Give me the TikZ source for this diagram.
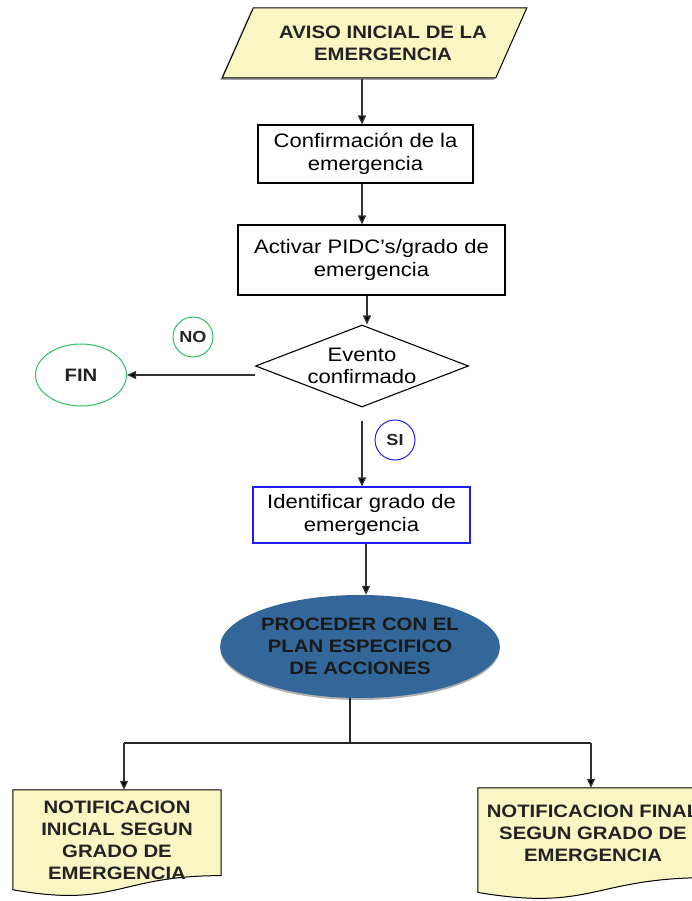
\documentclass[tikz,border=0pt]{standalone}
\usepackage{fontspec}
\setmainfont{Liberation Sans}[FakeStretch=1.13]
\usetikzlibrary{arrows.meta,shapes.geometric,calc,backgrounds,shadows}

\definecolor{paper}{RGB}{250,246,196}
\definecolor{planblue}{RGB}{51,102,153}
\definecolor{okgreen}{RGB}{45,190,95}
\definecolor{siblue}{RGB}{30,30,240}
\definecolor{inkgray}{RGB}{35,35,35}

% wavy "document" outline below a text node: #1 node, #2 full height, #3 path options
\newcommand\docoutline[3]{%
  \path[#3] (#1.north west) -- (#1.north east)
    -- ($(#1.north east)+(0,0.802*#2)$)
    .. controls ($(#1.north)+(0,0.802*#2)$) and ($(#1.north)+(0,1.107*#2)$)
    .. ($(#1.north west)+(0,0.934*#2)$) -- cycle;}

\begin{document}
\begin{tikzpicture}[x=1pt,y=-1pt,
  txt/.style={font=\fontsize{19.5}{22.5}\selectfont, align=center},
  btxt/.style={font=\fontsize{18}{22}\selectfont\bfseries, align=center, text=inkgray},
  proc/.style={rectangle, draw, line width=1.1pt, inner sep=0pt, txt},
  arr/.style={draw=black!80, line width=1.3pt, -{Triangle[length=9pt,width=8pt,fill=black]}},
  conn/.style={draw=black!85, line width=1.3pt},
  tag/.style={circle, draw, line width=1pt, minimum size=40pt, inner sep=0pt,
    font=\fontsize{16}{18}\selectfont\bfseries, text=inkgray},
  docnode/.style={rectangle, inner sep=0pt, btxt},
  softshadow/.style={drop shadow={shadow xshift=-2pt, shadow yshift=-2pt, fill=black, opacity=0.35}}]

\useasboundingbox (0,0) rectangle (692,901);
\clip (0,0) rectangle (692,901);

% start of the flow (text sits a little right of the slanted box's centre)
\node[trapezium, trapezium left angle=50.4, trapezium right angle=129.6,
      trapezium stretches=true, minimum width=305pt, minimum height=70pt,
      inner sep=0pt, draw, line width=1pt, fill=paper, softshadow, btxt]
      (aviso) at (374.5,43) {\hspace*{17pt}AVISO INICIAL DE LA\\\hspace*{17pt}EMERGENCIA};

\node[proc, minimum width=215pt, minimum height=58pt] (conf) at (365.5,154)
      {Confirmación de la\\emergencia};
\node[proc, minimum width=267pt, minimum height=70pt] (pidc) at (371.5,260)
      {Activar PIDC’s/grado de\\emergencia};

% decision
\node[diamond, aspect=2.6, draw, line width=1.1pt, minimum width=213pt,
      minimum height=82pt, inner sep=0pt, txt] (evento) at (362,366)
      {Evento\\confirmado};
\node[tag, draw=okgreen] (no) at (193,337) {NO};
\node[ellipse, draw=okgreen, line width=1pt, minimum width=91pt, minimum height=62pt,
      inner sep=0pt, font=\fontsize{18}{20}\selectfont\bfseries, text=inkgray]
      (fin) at (81,375) {FIN};
\node[tag, draw=siblue] (si) at (395,440) {SI};

\node[proc, draw=siblue, minimum width=217pt, minimum height=56pt] (ident) at (361.5,515)
      {Identificar grado de\\emergencia};

\node[ellipse, fill=planblue, minimum width=274pt, minimum height=103pt, inner sep=0pt,
      drop shadow={shadow xshift=0pt, shadow yshift=-2pt, fill=black, opacity=0.3},
      btxt, text=black!90] (plan) at (360,646.5)
      {PROCEDER CON EL\\PLAN ESPECIFICO\\DE ACCIONES};

% notification documents
\node[docnode, minimum width=208pt, minimum height=100pt] (doc1) at (117,840)
      {NOTIFICACION\\INICIAL SEGUN\\GRADO DE\\EMERGENCIA};
\node[docnode, minimum width=230pt, minimum height=90pt] (doc2) at (593,833)
      {NOTIFICACION FINAL\\SEGUN GRADO DE\\EMERGENCIA};

\begin{scope}[on background layer]
  \docoutline{doc1}{107}{fill=black!45, shift={(-2,2)}}
  \docoutline{doc1}{107}{fill=paper, draw, line width=1pt}
  \docoutline{doc2}{112}{fill=black!45, shift={(-2,2)}}
  \docoutline{doc2}{112}{fill=paper, draw, line width=1pt}
\end{scope}

% branch points of the final split
\coordinate (split) at (350,743);
\coordinate (lft) at (124,743);
\coordinate (rgt) at (591,743);

% connectors
\draw[arr] (aviso.south -| 362,0) -- (conf.north -| 362,0);
\draw[arr] (conf.south -| 362,0) -- (pidc.north -| 362,0);
\draw[arr] (pidc.south -| 367,0) -- (evento.north -| 367,0);
\draw[arr] (evento.west |- fin.east) -- (fin.east);
\draw[arr, shorten <=13pt] (evento.south) -- (ident.north -| evento.south);
\draw[arr] (ident.south -| 366,0) -- (plan.north -| 366,0);
\draw[conn] (split |- plan.south) -- (split);
\draw[conn] (lft) -- (rgt);
\draw[arr] (lft) -- (lft |- doc1.north);
\draw[arr] (rgt) -- (rgt |- doc2.north);

\end{tikzpicture}
\end{document}
